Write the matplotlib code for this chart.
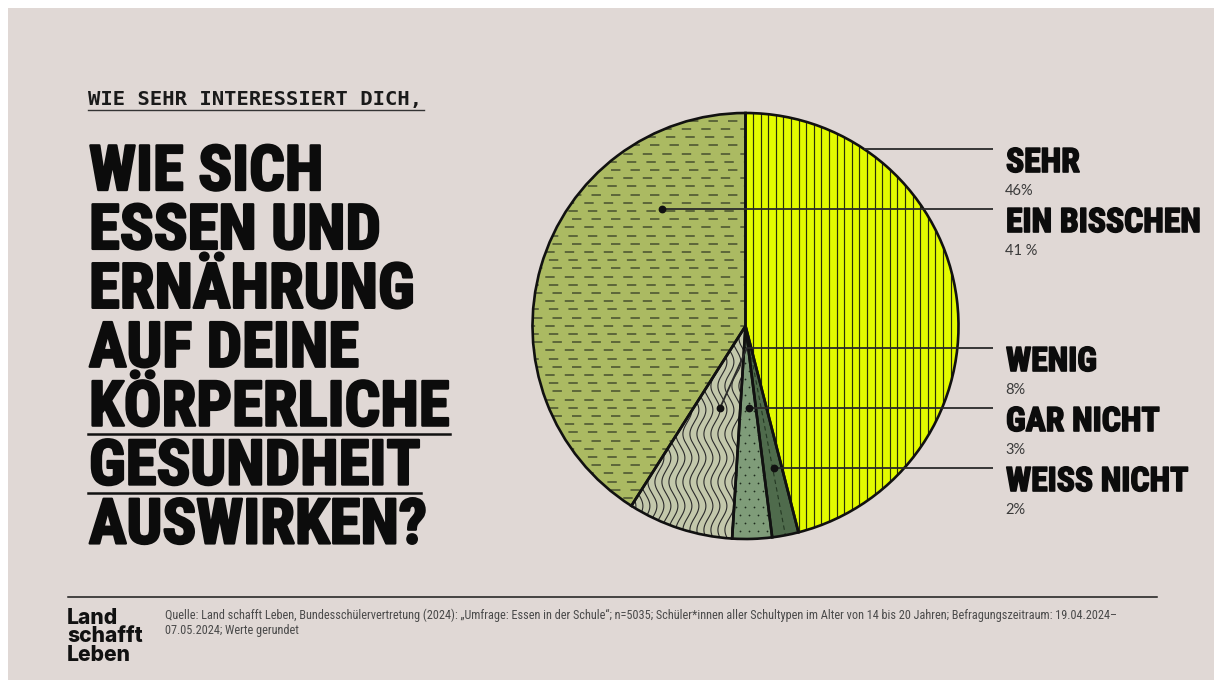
import matplotlib
matplotlib.use("Agg")
import matplotlib.pyplot as plt
import numpy as np
from matplotlib import font_manager as fm
import matplotlib.patheffects as pe
from matplotlib.patches import Wedge, Rectangle
from matplotlib.collections import LineCollection

# ---------------- data ----------------
categories = ["SEHR", "WEISS NICHT", "GAR NICHT", "WENIG", "EIN BISSCHEN"]   # clockwise from 12 o'clock
values = [46, 2, 3, 8, 41]
legend_order = ["SEHR", "EIN BISSCHEN", "WENIG", "GAR NICHT", "WEISS NICHT"]
legend_pct = ["46%", "41 %", "8%", "3%", "2%"]
kicker = "WIE SEHR INTERESSIERT DICH,"
title_lines = ["WIE SICH", "ESSEN UND", "ERNÄHRUNG", "AUF DEINE", "KÖRPERLICHE", "GESUNDHEIT", "AUSWIRKEN?"]
underlined = ["KÖRPERLICHE", "GESUNDHEIT"]
logo_lines = ["Land", "schafft", "Leben"]
source_lines = [
    "Quelle: Land schafft Leben, Bundesschülervertretung (2024): „Umfrage: Essen in der Schule“; n=5035; "
    "Schüler*innen aller Schultypen im Alter von 14 bis 20 Jahren; Befragungszeitraum: 19.04.2024–",
    "07.05.2024; Werte gerundet",
]

# ---------------- style ----------------
W, H = 1214, 680
BG = "#e0d8d5"
colors = {"SEHR": "#e3fb00", "WEISS NICHT": "#4f6b4c", "GAR NICHT": "#7f9c79",
          "WENIG": "#c3c8ab", "EIN BISSCHEN": "#abba62"}


def has_font(name):
    try:
        fm.findfont(fm.FontProperties(family=name), fallback_to_default=False)
        return True
    except Exception:
        return False


HEAVY = "Roboto Condensed" if has_font("Roboto Condensed") else "DejaVu Sans"
NARROW = HEAVY
MONO = "DejaVu Sans Mono"
LIGHT = "Lato" if has_font("Lato") else "DejaVu Sans"
LOGO = "Inter" if has_font("Inter") else "DejaVu Sans"

fig = plt.figure(figsize=(W / 100, H / 100), dpi=100)
fig.patch.set_facecolor("white")

# background panel (white strip top/left as in reference)
ax_bg = fig.add_axes([0, 0, 1, 1])
ax_bg.set_xlim(0, W); ax_bg.set_ylim(H, 0); ax_bg.axis("off")
ax_bg.add_patch(Rectangle((8, 8), W, H, facecolor=BG, edgecolor="none"))

# ---------------- pie ----------------
cx, cy, R = 745.5, 326, 213
ax = fig.add_axes([(cx - R) / W, (H - cy - R) / H, 2 * R / W, 2 * R / H])
wedges, _ = ax.pie(values, colors=[colors[c] for c in categories], startangle=90,
                   counterclock=False, radius=1, wedgeprops=dict(edgecolor="none", linewidth=0))
ax.set_xlim(-1, 1); ax.set_ylim(-1, 1); ax.set_aspect("auto"); ax.axis("off")
u = 1.0 / R  # one pixel in pie units
wd = dict(zip(categories, wedges))

# SEHR: vertical lines
xs = np.arange(-1, 1, 7.6 * u)
lc = LineCollection([[(x, -1), (x, 1)] for x in xs], colors="#29300a", linewidths=0.85, zorder=2)
ax.add_collection(lc); lc.set_clip_path(wd["SEHR"])

# EIN BISSCHEN: dashed horizontal rows
for i, y in enumerate(np.arange(-1, 1, 8.2 * u)):
    ln, = ax.plot([-1, 1], [y, y], color="#566036", lw=1.3,
                  linestyle=((i % 3) * 2.0, (5.2, 5.6)), zorder=2)
    ln.set_clip_path(wd["EIN BISSCHEN"])

# WENIG: wavy vertical lines
yy = np.linspace(-1, 0.2, 600)
for x0 in np.arange(-0.7, 0.2, 7.0 * u):
    ln, = ax.plot(x0 + 4.5 * u * np.sin(2 * np.pi * yy / (48 * u)), yy, color="#2a2a2a", lw=0.8, zorder=2)
    ln.set_clip_path(wd["WENIG"])

# GAR NICHT: dots
pts = []
for j, y in enumerate(np.arange(-1, 0, 8 * u)):
    for x in np.arange(-0.3, 0.3, 9 * u):
        pts.append((x + (j % 2) * 4.5 * u, y))
pts = np.array(pts)
sc = ax.scatter(pts[:, 0], pts[:, 1], s=1.6, color="#1d2a1c", zorder=2, linewidths=0)
sc.set_clip_path(wd["GAR NICHT"])

# WEISS NICHT: dashed radial line
w = wd["WEISS NICHT"]
mid = np.deg2rad((w.theta1 + w.theta2) / 2)
ln, = ax.plot([0.15 * np.cos(mid), np.cos(mid)], [0.15 * np.sin(mid), np.sin(mid)],
              color="#243823", lw=0.8, linestyle=(0, (4, 3)), zorder=2)
ln.set_clip_path(w)

# outlines on top
for w in wedges:
    ax.add_patch(Wedge(w.center, w.r, w.theta1, w.theta2, fill=False, edgecolor="#111111",
                       linewidth=1.9, joinstyle="miter", zorder=3, clip_on=False))

# ---------------- overlay ----------------
ov = fig.add_axes([0, 0, 1, 1])
ov.set_xlim(0, W); ov.set_ylim(H, 0); ov.axis("off"); ov.patch.set_alpha(0)
rend = fig.canvas.get_renderer()


def fit(t, target):
    for _ in range(3):
        wpx = t.get_window_extent(rend).width
        t.set_fontsize(t.get_fontsize() * target / wpx)
    return t.get_fontsize()


# kicker
t = ov.text(88, 105, kicker, family=MONO, weight="bold", fontsize=14, color="#1a1a1a", va="baseline")
fit(t, 334)
ov.plot([88, 424], [109.5, 109.5], color="#333", lw=1.0)

# title
stroke = [pe.withStroke(linewidth=1.7, foreground="#0c0c0c")]
probe = ov.text(88, 425, "KÖRPERLICHE", family=HEAVY, weight="bold", fontsize=44, va="baseline")
fs = fit(probe, 361)
probe.remove()
base0, pitch = 190, 58.9
for i, line in enumerate(title_lines):
    yb = base0 + i * pitch
    tt = ov.text(89, yb, line, family=HEAVY, weight="bold", fontsize=fs, color="#0c0c0c",
                 va="baseline", path_effects=stroke)
    if line in underlined:
        ext = tt.get_window_extent(rend)
        ov.plot([88, 88 + ext.width + 1], [yb + 8.5, yb + 8.5], color="#111", lw=1.8)

# legend labels + leaders
line_y = {"SEHR": 149, "EIN BISSCHEN": 209, "WENIG": 348, "GAR NICHT": 408, "WEISS NICHT": 468}
probe = ov.text(1005, 232, "EIN BISSCHEN", family=HEAVY, weight="bold", fontsize=22, va="baseline")
lfs = fit(probe, 194)
probe.remove()
for name, pct in zip(legend_order, legend_pct):
    ly = line_y[name]
    ov.text(1006, ly + 23, name, family=HEAVY, weight="bold", fontsize=lfs, color="#0c0c0c",
            va="baseline", path_effects=[pe.withStroke(linewidth=1.2, foreground="#0c0c0c")])
    ov.text(1005, ly + 46, pct, family=LIGHT, fontsize=10.5, color="#3a3a3a", va="baseline")

lead = dict(color="#2a2a2a", lw=1.3, solid_capstyle="butt")
dot = dict(marker="o", ms=4.6, color="#111", zorder=5)
ov.plot([864, 993], [149, 149], **lead)
ov.plot([662, 993], [209, 209], **lead); ov.plot([662], [209], **dot)
ov.plot([720, 747, 993], [408, 348, 348], **lead); ov.plot([720], [408], **dot)
ov.plot([749, 993], [408, 408], **lead); ov.plot([749], [408], **dot)
ov.plot([774, 993], [468, 468], **lead); ov.plot([774], [468], **dot)

# footer
ov.plot([68, 1157], [597, 597], color="#1a1a1a", lw=1.1)
probe = ov.text(68, 641, "schafft", family=LOGO, weight="heavy", fontsize=14, va="baseline")
gfs = fit(probe, 76)
probe.remove()
for i, line in enumerate(logo_lines):
    ov.text(67, 624 + i * 18.5, line, family=LOGO, weight="heavy", fontsize=gfs, color="#111",
            va="baseline")

t = ov.text(165, 619, source_lines[0], family=NARROW, fontsize=8, color="#4a4a4a", va="baseline")
sfs = fit(t, 957)
ov.text(165, 634, source_lines[1], family=NARROW, fontsize=sfs, color="#4a4a4a", va="baseline")

fig.savefig("out.png", dpi=100, facecolor=fig.get_facecolor())
